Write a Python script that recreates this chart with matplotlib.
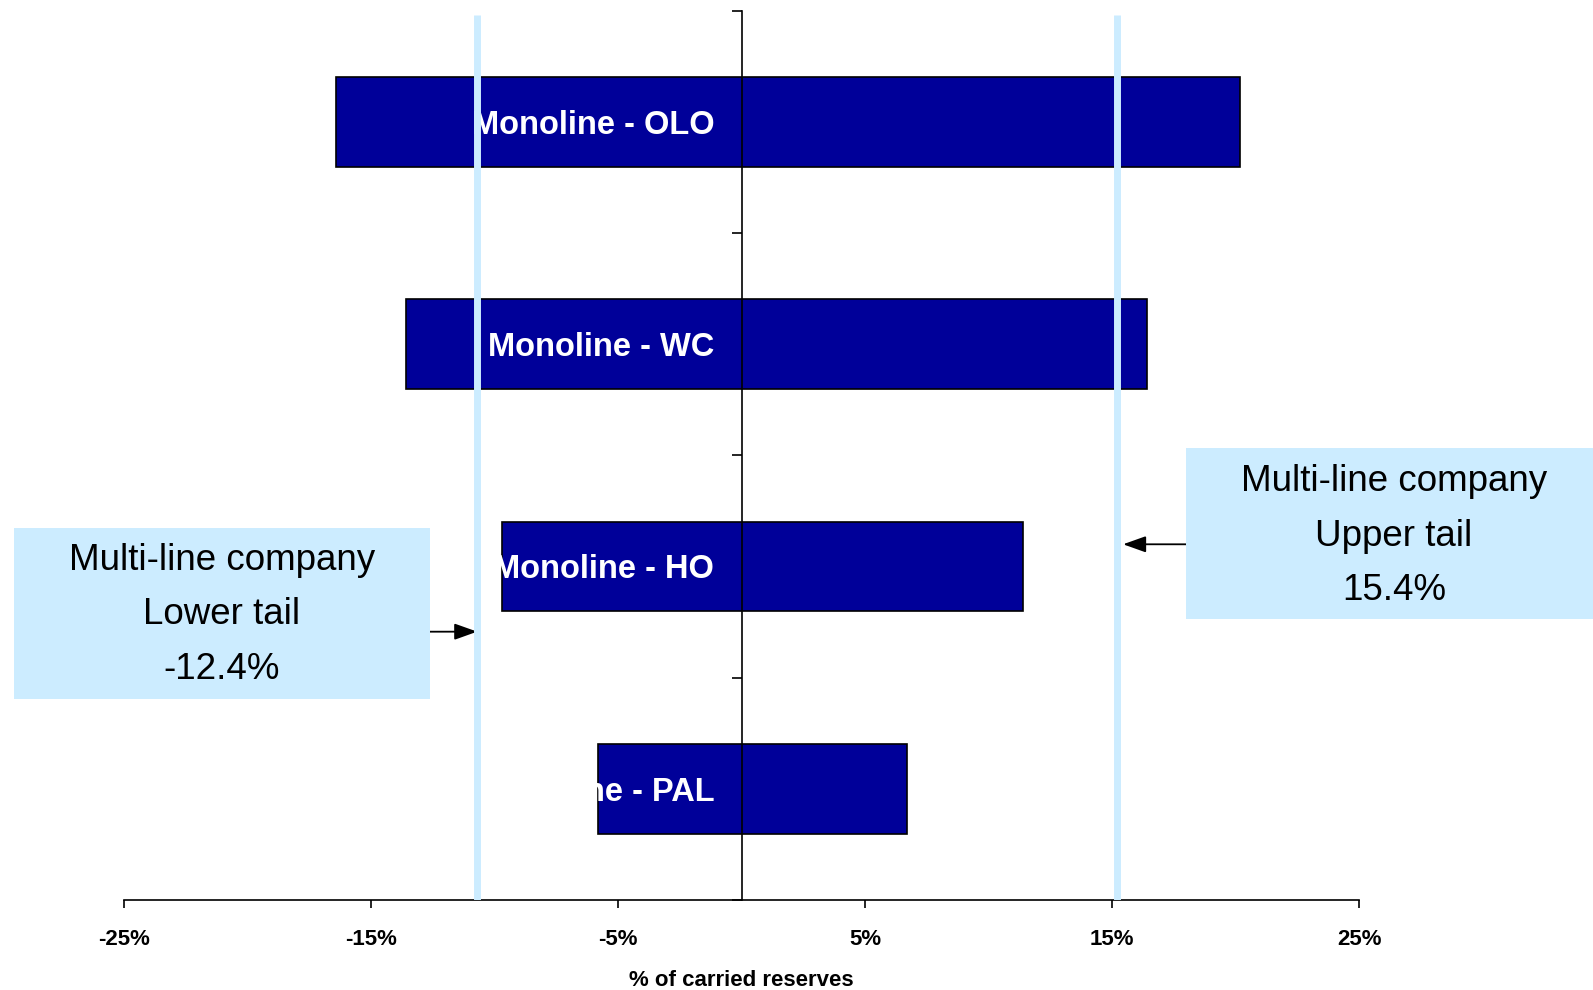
import matplotlib
matplotlib.use('Agg')
import matplotlib.pyplot as plt
from matplotlib.patches import Rectangle

plt.rcParams['font.family'] = ['Liberation Sans', 'DejaVu Sans']

# monoline ranges, % of carried reserves (bottom to top)
lines = ['Monoline - PAL', 'Monoline - HO', 'Monoline - WC', 'Monoline - OLO']
lower = [-5.8, -9.7, -13.6, -16.4]
upper = [6.7, 11.4, 16.4, 20.2]

# multi-line company tails (line positions as drawn, labels as printed)
multi_lower = -10.7
multi_upper = 15.2
lower_text = 'Multi-line company\nLower tail\n-12.4%'
upper_text = 'Multi-line company\nUpper tail\n15.4%'

xticks = [-25, -15, -5, 5, 15, 25]
xticklabels = ['-25%', '-15%', '-5%', '5%', '15%', '25%']

W, H = 1593, 990
fig = plt.figure(figsize=(W / 100, H / 100), dpi=100)
ax = fig.add_axes([124 / W, 1 - 900 / H, (1359 - 124) / W, (900 - 10.7) / H])

y = list(range(len(lines)))
widths = [u - l for l, u in zip(lower, upper)]
ax.barh(y, widths, left=lower, height=0.404, color='#000099',
        edgecolor='black', linewidth=1.2, zorder=1)

for yi, name in zip(y, lines):
    ax.text(-1.1, yi - 0.015, name, ha='right', va='center', color='white',
            fontsize=23.5, fontweight='bold', zorder=3)

ax.vlines([multi_lower, multi_upper], -0.5, 3.48, colors='#CCECFF',
          linewidth=5, zorder=4)

ax.set_xlim(-25, 25)
ax.set_ylim(-0.5, 3.5)
ax.set_xticks(xticks)
ax.set_xticklabels(xticklabels, fontsize=16, fontweight='bold')
ax.set_yticks([-0.5, 0.5, 1.5, 2.5, 3.5])
ax.set_yticklabels([])
ax.tick_params(axis='x', direction='out', length=6, width=1.2, pad=15)
ax.tick_params(axis='y', direction='out', length=7.5, width=1.2)

ax.spines['left'].set_position(('data', 0))
ax.spines['left'].set_zorder(2.5)
ax.spines['right'].set_visible(False)
ax.spines['top'].set_visible(False)
for s in ['left', 'bottom']:
    ax.spines[s].set_linewidth(1.2)

ax.set_xlabel('% of carried reserves', fontsize=16, fontweight='bold', labelpad=14)

# annotation boxes
box_color = '#CCECFF'
fig.patches.append(Rectangle((14 / W, 1 - 699 / H), (430 - 14) / W, (699 - 528) / H,
                             transform=fig.transFigure, facecolor=box_color,
                             edgecolor='none', zorder=0))
fig.patches.append(Rectangle((1186 / W, 1 - 619 / H), (W - 1186) / W, (619 - 448) / H,
                             transform=fig.transFigure, facecolor=box_color,
                             edgecolor='none', zorder=0))
fig.text(222 / W, 1 - 615 / H, lower_text, ha='center', va='center',
         fontsize=26.5, linespacing=1.72)
fig.text(1394 / W, 1 - 536 / H, upper_text, ha='center', va='center',
         fontsize=26.5, linespacing=1.72)

arrow = dict(arrowstyle='-|>,head_length=0.7,head_width=0.25', color='black',
             lw=1.3, shrinkA=0, shrinkB=0, mutation_scale=20)
ax.annotate('', xy=(multi_lower, 0.707), xycoords='data',
            xytext=(430, H - 631.7), textcoords='figure pixels',
            arrowprops=arrow, annotation_clip=False)
ax.annotate('', xy=(15.45, 1.1), xycoords='data',
            xytext=(1186, H - 544.3), textcoords='figure pixels',
            arrowprops=arrow, annotation_clip=False)

fig.savefig('out.png', dpi=100)
